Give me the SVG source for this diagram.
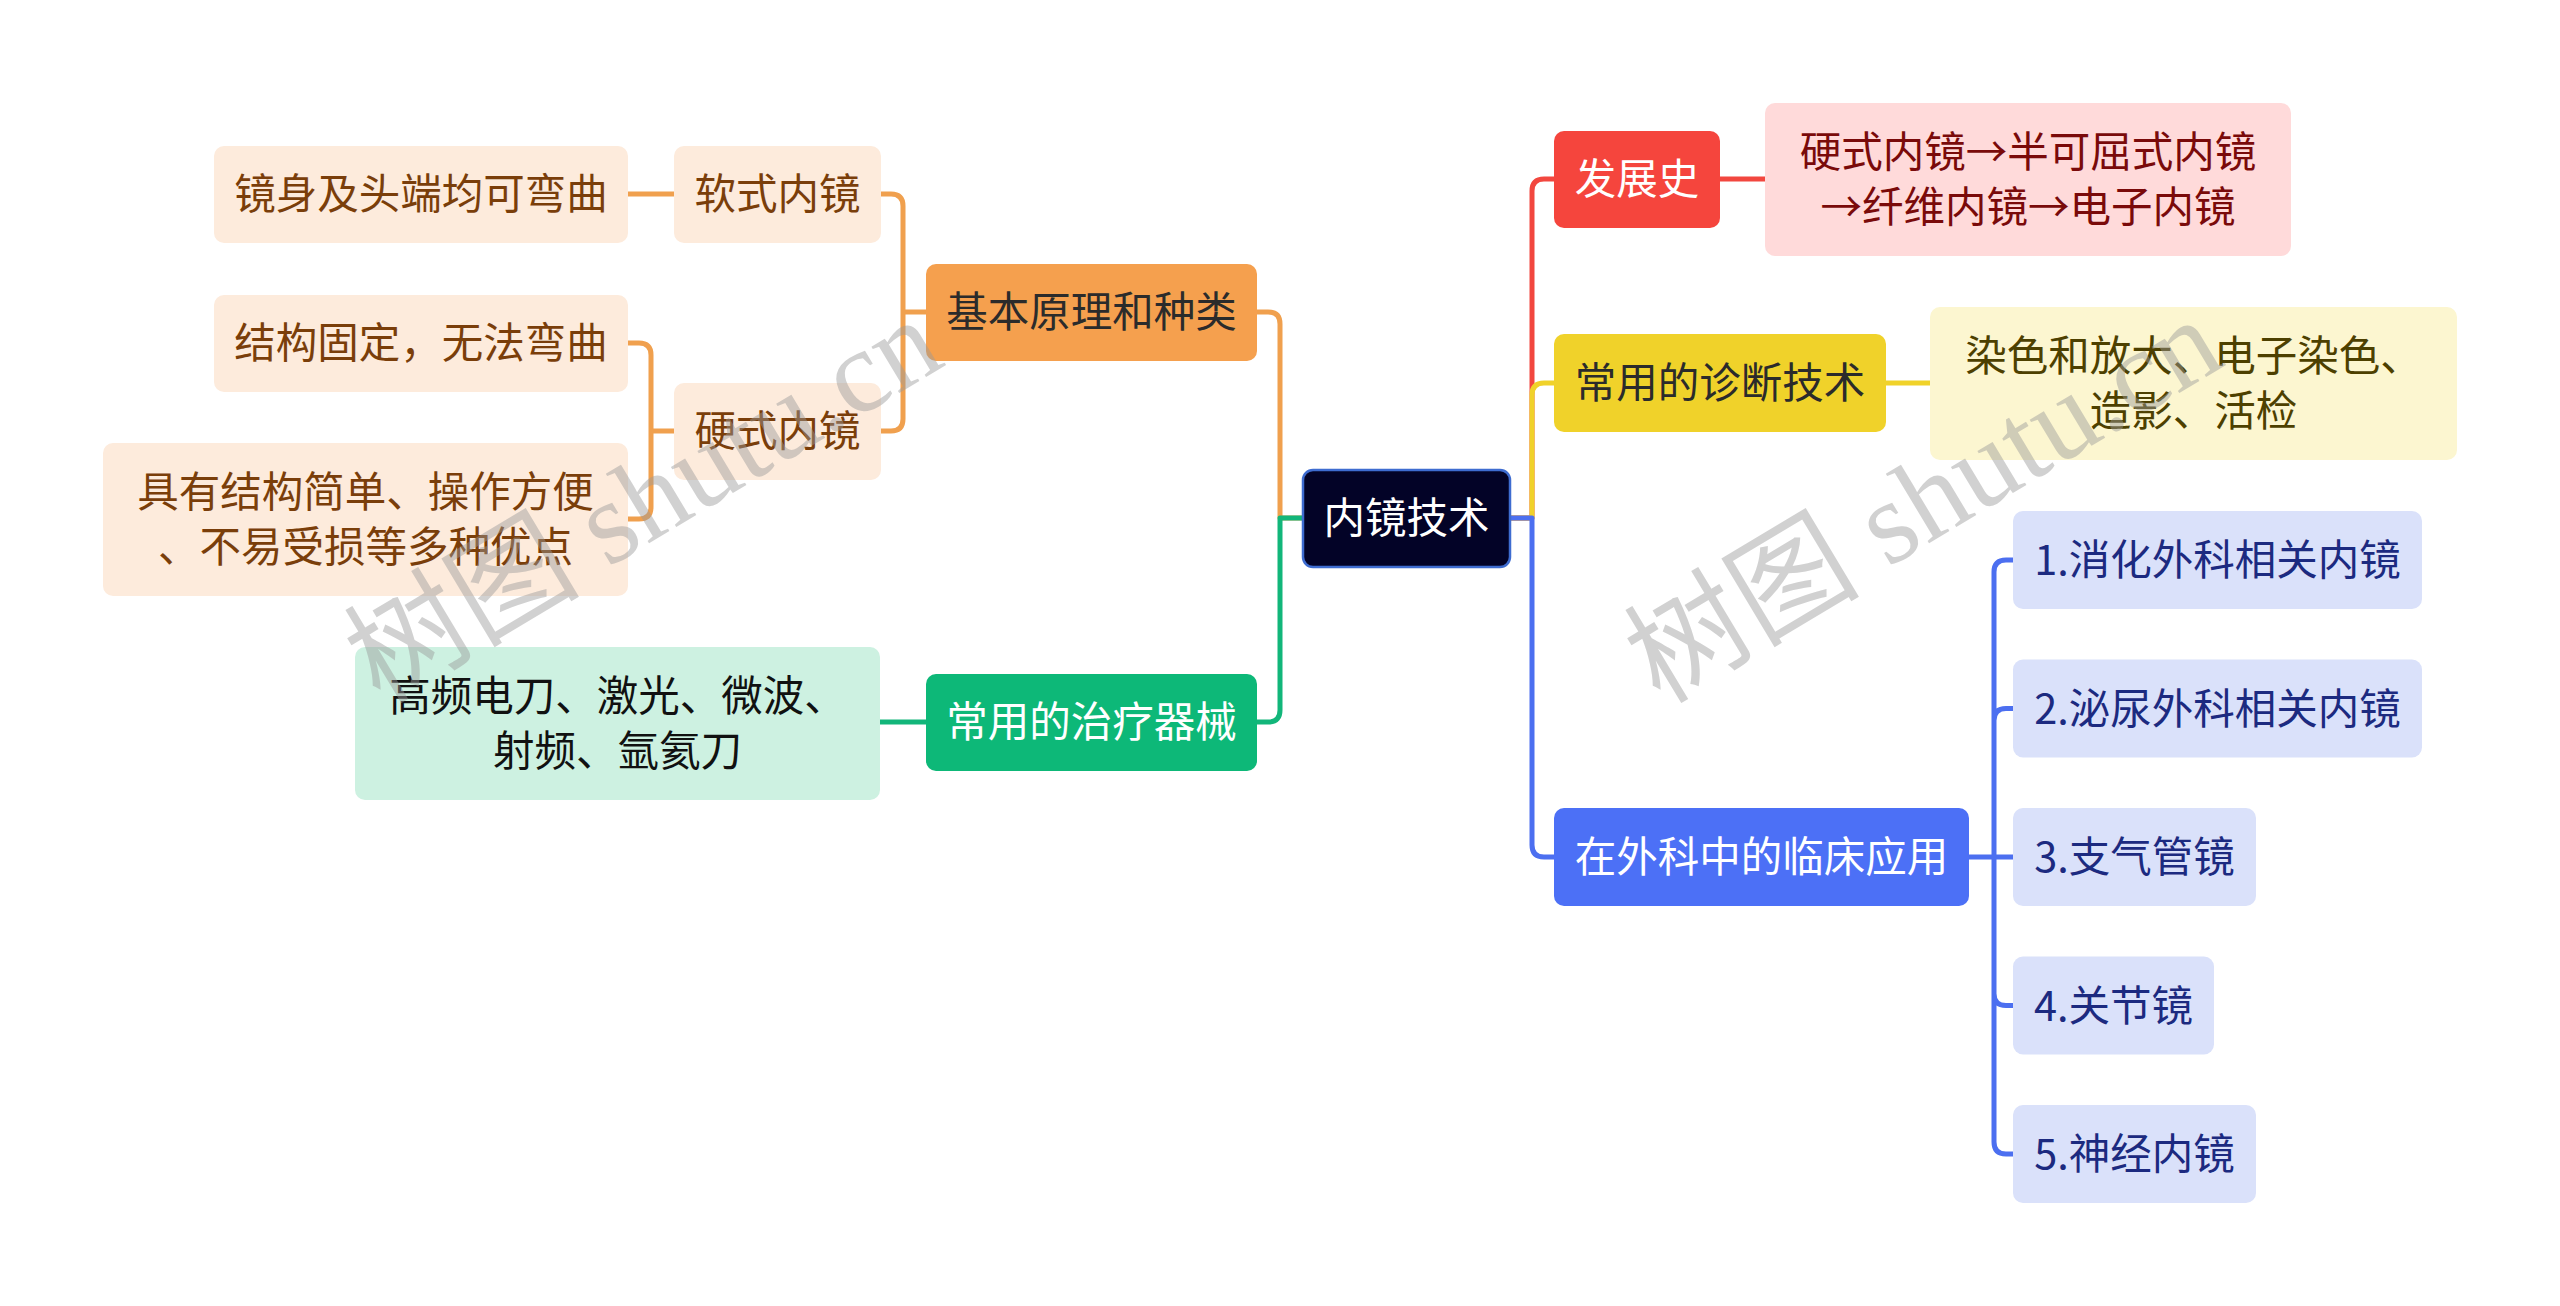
<svg xmlns="http://www.w3.org/2000/svg" width="2560" height="1306" viewBox="0 0 2560 1306">
<style>
text{font-family:"Noto Sans CJK SC","Noto Sans",sans-serif;font-size:41.5px;text-anchor:middle}
.ln{fill:none;stroke-width:5;stroke-linecap:round;stroke-linejoin:round}
.o{stroke:#F0A04E}.g{stroke:#12B67A}.r{stroke:#F2473F}.y{stroke:#F0D22A}.b{stroke:#4C6FF0}
.root{fill:#030327;stroke:#3E6CD0;stroke-width:2.5}
.wm{font-family:"Liberation Serif","Noto Sans CJK SC",serif;font-size:118px;fill:#9a9a9a;opacity:0.45;text-anchor:start}
</style>
<rect width="2560" height="1306" fill="#ffffff"/>
<g id="connectors">
<path class="ln o" d="M1303 518 H1280 V324 Q1280 312 1268 312 H1257"/>
<path class="ln g" d="M1303 518 H1280 V710 Q1280 722 1268 722 H1257"/>
<path class="ln o" d="M926 312 H903 V206 Q903 194 891 194 H881 M903 312 V419 Q903 431 891 431 H881"/>
<path class="ln o" d="M674 194 H628"/>
<path class="ln o" d="M674 431 H651 V355 Q651 343 639 343 H628 M651 431 V507 Q651 519 639 519 H628"/>
<path class="ln g" d="M926 722 H880"/>
<path class="ln r" d="M1510 518 H1532 V191 Q1532 179 1544 179 H1554"/>
<path class="ln r" d="M1720 179 H1765"/>
<path class="ln y" d="M1510 518 H1532 V395 Q1532 383 1544 383 H1554"/>
<path class="ln y" d="M1886 383 H1930"/>
<path class="ln b" d="M1510 518 H1532 V845 Q1532 857 1544 857 H1554"/>
<path class="ln b" d="M1969 857 H2013 M1994 857 V572 Q1994 560 2006 560 H2013 M1994 720.5 Q1994 708.5 2006 708.5 H2013 M1994 857 V1142 Q1994 1154 2006 1154 H2013 M1994 993.5 Q1994 1005.5 2006 1005.5 H2013"/>
</g>
<g id="root">
<rect class="root" x="1303" y="470" width="207" height="97" rx="10"/>
<text x="1406.5" y="533" fill="#ffffff">内镜技术</text>
</g>
<g id="n-basic">
<rect x="926" y="264" width="331" height="97" rx="10" fill="#F5A04E"/>
<text x="1091.5" y="327" fill="#2b2b2b">基本原理和种类</text>
</g>
<g id="n-soft">
<rect x="674" y="146" width="207" height="97" rx="10" fill="#FDEBDC"/>
<text x="777.5" y="209" fill="#7A3E0A">软式内镜</text>
</g>
<g id="n-soft-leaf">
<rect x="214" y="146" width="414" height="97" rx="10" fill="#FDEBDC"/>
<text x="421" y="209" fill="#7A3E0A">镜身及头端均可弯曲</text>
</g>
<g id="n-hard">
<rect x="674" y="383" width="207" height="97" rx="10" fill="#FDEBDC"/>
<text x="777.5" y="446" fill="#7A3E0A">硬式内镜</text>
</g>
<g id="n-hard-leaf1">
<rect x="214" y="295" width="414" height="97" rx="10" fill="#FDEBDC"/>
<text x="421" y="358" fill="#7A3E0A">结构固定，无法弯曲</text>
</g>
<g id="n-hard-leaf2">
<rect x="103" y="443" width="525" height="153" rx="10" fill="#FDEBDC"/>
<text x="365.5" y="507" fill="#7A3E0A">具有结构简单、操作方便</text>
<text x="365.5" y="562" fill="#7A3E0A">、不易受损等多种优点</text>
</g>
<g id="n-therapy">
<rect x="926" y="674" width="331" height="97" rx="10" fill="#0DB878"/>
<text x="1091.5" y="737" fill="#ffffff">常用的治疗器械</text>
</g>
<g id="n-therapy-leaf">
<rect x="355" y="647" width="525" height="153" rx="10" fill="#CDF1E1"/>
<text x="617.5" y="711" fill="#111111">高频电刀、激光、微波、</text>
<text x="617.5" y="766" fill="#111111">射频、氩氦刀</text>
</g>
<g id="n-history">
<rect x="1554" y="131" width="166" height="97" rx="10" fill="#F5453D"/>
<text x="1637" y="194" fill="#ffffff">发展史</text>
</g>
<g id="n-history-leaf">
<rect x="1765" y="103" width="526" height="153" rx="10" fill="#FFDADA"/>
<text x="2028" y="167" fill="#7A0A0A">硬式内镜→半可屈式内镜</text>
<text x="2028" y="222" fill="#7A0A0A">→纤维内镜→电子内镜</text>
</g>
<g id="n-diag">
<rect x="1554" y="334" width="332" height="98" rx="10" fill="#F0D22A"/>
<text x="1720" y="398" fill="#2b2b2b">常用的诊断技术</text>
</g>
<g id="n-diag-leaf">
<rect x="1930" y="307" width="527" height="153" rx="10" fill="#FCF6D0"/>
<text x="2193.5" y="371" fill="#4D4000">染色和放大、电子染色、</text>
<text x="2193.5" y="426" fill="#4D4000">造影、活检</text>
</g>
<g id="n-clinic">
<rect x="1554" y="808" width="415" height="98" rx="10" fill="#4C70F6"/>
<text x="1761.5" y="872" fill="#ffffff">在外科中的临床应用</text>
</g>
<g id="n-c1">
<rect x="2013" y="511" width="409" height="98" rx="10" fill="#DAE1FA"/>
<text x="2217.5" y="575" fill="#1C2A80">1.消化外科相关内镜</text>
</g>
<g id="n-c2">
<rect x="2013" y="659.5" width="409" height="98" rx="10" fill="#DAE1FA"/>
<text x="2217.5" y="723.5" fill="#1C2A80">2.泌尿外科相关内镜</text>
</g>
<g id="n-c3">
<rect x="2013" y="808" width="243" height="98" rx="10" fill="#DAE1FA"/>
<text x="2134.5" y="872" fill="#1C2A80">3.支气管镜</text>
</g>
<g id="n-c4">
<rect x="2013" y="956.5" width="201" height="98" rx="10" fill="#DAE1FA"/>
<text x="2113.5" y="1020.5" fill="#1C2A80">4.关节镜</text>
</g>
<g id="n-c5">
<rect x="2013" y="1105" width="243" height="98" rx="10" fill="#DAE1FA"/>
<text x="2134.5" y="1169" fill="#1C2A80">5.神经内镜</text>
</g>
<g id="watermarks">
<text class="wm" transform="translate(380 705) rotate(-31)">树图 shutu.cn</text>
<text class="wm" transform="translate(1660 705) rotate(-31)">树图 shutu.cn</text>
</g>
</svg>
